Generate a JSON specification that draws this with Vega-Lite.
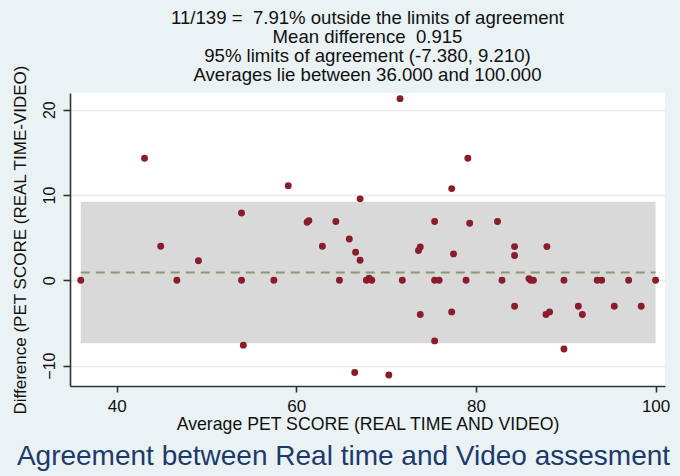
{
  "$schema": "https://vega.github.io/schema/vega-lite/v6.json",
  "width": 595,
  "height": 293,
  "autosize": {"type": "none"},
  "padding": {"left": 70, "top": 93, "right": 15, "bottom": 90},
  "background": "#EAF2F3",
  "config": {
    "view": {"fill": "white", "stroke": null},
    "font": "Liberation Sans",
    "axis": {
      "domainColor": "#333333",
      "domainWidth": 1.6,
      "tickColor": "#333333",
      "tickWidth": 1.6,
      "labelColor": "#111111",
      "titleColor": "#111111",
      "labelFont": "Liberation Sans",
      "titleFont": "Liberation Sans",
      "titleFontWeight": "normal"
    }
  },
  "title": {
    "text": [
      "11/139 = \u00a07.91% outside the limits of agreement",
      "Mean difference \u00a00.915",
      "95% limits of agreement (-7.380, 9.210)",
      "Averages lie between 36.000 and 100.000"
    ],
    "anchor": "middle",
    "frame": "group",
    "fontSize": 18.6,
    "lineHeight": 18.8,
    "fontWeight": "normal",
    "font": "Liberation Sans",
    "color": "#111111",
    "offset": -20
  },
  "datasets": {
    "band": [{"xmin": 36, "xmax": 100, "lo": -7.38, "hi": 9.21, "mean": 0.915}],
    "points": [
      {"avg": 36.0, "diff": 0},
      {"avg": 43.1, "diff": 14.3},
      {"avg": 44.9, "diff": 4.0},
      {"avg": 46.7, "diff": 0},
      {"avg": 49.1, "diff": 2.3},
      {"avg": 53.9, "diff": 7.9},
      {"avg": 53.9, "diff": 0},
      {"avg": 54.1, "diff": -7.6},
      {"avg": 57.5, "diff": 0},
      {"avg": 59.1, "diff": 11.1},
      {"avg": 61.2, "diff": 6.8},
      {"avg": 61.4, "diff": 7.0},
      {"avg": 62.9, "diff": 4.0},
      {"avg": 64.4, "diff": 6.9},
      {"avg": 64.8, "diff": 0},
      {"avg": 65.9, "diff": 4.85},
      {"avg": 66.5, "diff": -10.8},
      {"avg": 66.6, "diff": 3.3},
      {"avg": 67.1, "diff": 2.35},
      {"avg": 67.1, "diff": 9.55},
      {"avg": 67.8, "diff": 0},
      {"avg": 68.1, "diff": 0.25},
      {"avg": 68.4, "diff": 0},
      {"avg": 70.3, "diff": -11.1},
      {"avg": 71.55, "diff": 21.3},
      {"avg": 71.8, "diff": 0},
      {"avg": 73.6, "diff": 3.5},
      {"avg": 73.8, "diff": 3.9},
      {"avg": 73.8, "diff": -4.0},
      {"avg": 75.4, "diff": 6.9},
      {"avg": 75.4, "diff": 0},
      {"avg": 75.9, "diff": 0},
      {"avg": 75.4, "diff": -7.1},
      {"avg": 77.3, "diff": 10.75},
      {"avg": 77.3, "diff": -3.7},
      {"avg": 77.5, "diff": 3.1},
      {"avg": 78.9, "diff": 0},
      {"avg": 79.1, "diff": 14.3},
      {"avg": 79.3, "diff": 6.7},
      {"avg": 82.4, "diff": 6.9},
      {"avg": 82.9, "diff": 0},
      {"avg": 84.3, "diff": 3.95},
      {"avg": 84.3, "diff": 2.9},
      {"avg": 84.3, "diff": -3.05},
      {"avg": 85.9, "diff": 0.2},
      {"avg": 86.1, "diff": 0},
      {"avg": 86.4, "diff": 0},
      {"avg": 87.9, "diff": 3.95},
      {"avg": 87.8, "diff": -4.0},
      {"avg": 88.2, "diff": -3.7},
      {"avg": 89.8, "diff": 0},
      {"avg": 89.8, "diff": -8.05},
      {"avg": 91.4, "diff": -3.05},
      {"avg": 91.85, "diff": -4.0},
      {"avg": 93.5, "diff": 0},
      {"avg": 94.0, "diff": 0},
      {"avg": 95.4, "diff": -3.05},
      {"avg": 97.0, "diff": 0},
      {"avg": 98.4, "diff": -3.05},
      {"avg": 100.0, "diff": 0}
    ]
  },
  "layer": [
    {
      "data": {"name": "band"},
      "mark": {"type": "rect", "color": "#d9d9d9"},
      "encoding": {
        "x": {
          "field": "xmin", "type": "quantitative",
          "scale": {"domain": [34.8, 101.05], "nice": false, "zero": false},
          "axis": {
            "orient": "bottom",
            "title": "Average PET SCORE (REAL TIME AND VIDEO)",
            "values": [40, 60, 80, 100],
            "grid": false,
            "tickSize": 6,
            "labelFontSize": 17,
            "labelPadding": 6,
            "titleFontSize": 17.7,
            "titlePadding": 1
          }
        },
        "x2": {"field": "xmax"},
        "y": {
          "field": "lo", "type": "quantitative",
          "scale": {"domain": [-12.39, 21.96], "nice": false, "zero": false},
          "axis": {
            "title": "Difference (PET SCORE (REAL TIME-VIDEO)",
            "values": [-10, 0, 10, 20],
            "grid": true,
            "gridColor": "#e9e9e9",
            "gridWidth": 1.5,
            "tickSize": 7,
            "labelAngle": -90,
            "labelAlign": "center",
            "labelBaseline": "bottom",
            "labelFontSize": 16,
            "labelPadding": 6,
            "titleFontSize": 17,
            "titlePadding": 12
          }
        },
        "y2": {"field": "hi"}
      }
    },
    {
      "data": {"name": "band"},
      "mark": {"type": "rule", "color": "#8a9a70", "strokeWidth": 2, "strokeDash": [9, 6]},
      "encoding": {
        "x": {"field": "xmin", "type": "quantitative", "axis": null},
        "x2": {"field": "xmax"},
        "y": {"field": "mean", "type": "quantitative"}
      }
    },
    {
      "data": {"name": "points"},
      "mark": {"type": "point", "shape": "circle", "filled": true, "size": 48, "color": "#8b1c2c", "opacity": 1},
      "encoding": {
        "x": {
          "field": "avg", "type": "quantitative",
          "axis": {
            "orient": "bottom",
            "title": "Agreement between Real time and Video assesment",
            "labels": false,
            "ticks": false,
            "domain": false,
            "grid": false,
            "titleFontSize": 28,
            "titleColor": "#1c3a6e",
            "titlePadding": 56,
            "titleX": 273,
            "titleAlign": "center"
          }
        },
        "y": {"field": "diff", "type": "quantitative"}
      }
    }
  ],
  "resolve": {"axis": {"x": "independent"}}
}
